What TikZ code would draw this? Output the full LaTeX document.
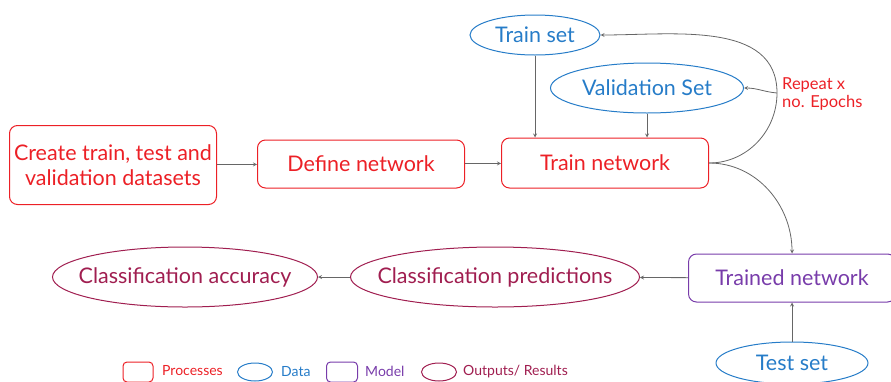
\documentclass[tikz,border=0pt]{standalone}
\usepackage{fontspec}
\setmainfont{Lato}
\usetikzlibrary{shapes.geometric, arrows}
\definecolor{procred}{RGB}{236,32,38}
\definecolor{datablue}{RGB}{38,124,200}
\definecolor{modelpurple}{RGB}{120,60,170}
\definecolor{outmaroon}{RGB}{160,30,80}
\tikzstyle{arrow} = [draw=black!60, line width=0.8pt, ->, >=stealth]
\tikzstyle{process} = [rectangle, draw=procred, text=procred, line width=1pt, rounded corners=8pt, align=center, minimum width=207pt]
\tikzstyle{data} = [ellipse, draw=datablue, text=datablue, line width=1pt, inner sep=0pt]
\tikzstyle{model} = [rectangle, draw=modelpurple, text=modelpurple, line width=1pt, rounded corners=8pt, minimum width=207pt, minimum height=48pt]
\tikzstyle{output} = [ellipse, draw=outmaroon, text=outmaroon, line width=1pt, inner sep=0pt, minimum height=60pt]
\tikzstyle{outtext} = [text=outmaroon]
\tikzstyle{legtext} = [anchor=west, font=\fontsize{14}{16}\selectfont, inner sep=0pt]

\begin{document}
\begin{tikzpicture}[x=1pt, y=-1pt, font=\fontsize{21.5}{25}\selectfont]
    \useasboundingbox (0,0) rectangle (891,381);
    % Nodes
    \node[process, minimum height=79pt] (create) at (113, 165) {Create train, test and\\ validation datasets};
    \node[process, minimum height=48pt] (define) at (361, 164) {Define network};
    \node[process, minimum height=50pt] (train) at (605, 163) {Train network};
    \node[data, minimum width=130pt, minimum height=40pt] (trainset) at (535, 35) {Train set};
    \node[data, minimum width=193pt, minimum height=50pt] (valset) at (647, 88) {Validation Set};
    \node[model] (trained) at (792, 278) {Trained network};
    \node[data, minimum width=152pt, minimum height=42pt] (testset) at (792, 363) {Test set};
    \node[output, minimum width=289pt, label={[outtext]center:Classification predictions}] (predict) at (495, 277) {};
    \node[output, minimum width=265pt, label={[outtext]center:Classification accuracy}] (accuracy) at (185, 277) {};
    \node[anchor=west, text=procred, align=left, font=\fontsize{16.5}{18}\selectfont, inner sep=0pt] (repeat) at (782, 94) {Repeat x\\no. Epochs};
    \coordinate (loop) at (777, 93);

    % Arrows
    \draw[arrow] (create) -- (define);
    \draw[arrow] (define) -- (train);
    \draw[arrow] (trainset) -- (trainset |- train.north);
    \draw[arrow] (valset) -- (valset |- train.north);
    \draw[arrow] (train.east) to[out=0, in=-90] (loop) to[out=90, in=0] (trainset.east);
    \draw[arrow] (loop) to[out=175, in=0] (valset.east);
    \draw[arrow] (train.east) to[out=0, in=90] (trained.north);
    \draw[arrow] (testset) -- (trained);
    \draw[arrow] (trained) -- (predict);
    \draw[arrow] (predict) -- (accuracy);

    % Legend
    \node[process, minimum width=30pt, minimum height=20pt, rounded corners=4pt] (legproc) at (138, 372) {};
    \node[legtext, text=procred] (legproctext) at (162, 371) {Processes};
    \node[data, minimum width=35pt, minimum height=18pt] (legdata) at (255, 372) {};
    \node[legtext, text=datablue] (legdatatext) at (281, 372) {Data};
    \node[model, minimum width=31pt, minimum height=20pt, rounded corners=4pt] (legmodel) at (342, 372) {};
    \node[legtext, text=modelpurple] (legmodeltext) at (365, 371) {Model};
    \node[output, minimum width=35pt, minimum height=18pt] (legout) at (439, 372) {};
    \node[legtext, text=outmaroon] (legouttext) at (463, 372) {Outputs/ Results};
\end{tikzpicture}
\end{document}
